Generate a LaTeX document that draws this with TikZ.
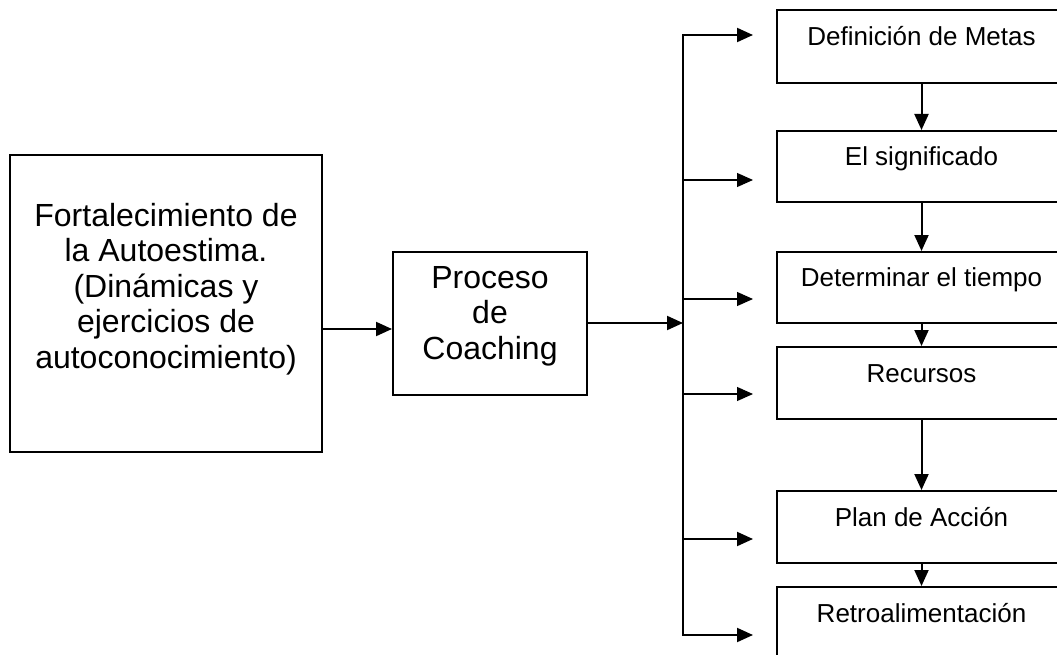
\documentclass[tikz,border=0pt]{standalone}
\usepackage{fontspec}
\setmainfont{Liberation Sans}
\usetikzlibrary{arrows.meta,calc}
\begin{document}
\begin{tikzpicture}[x=1pt,y=-1pt,
  frame/.style={draw,line width=2pt,inner sep=0pt},
  bigtext/.style={align=center,inner sep=0pt,font=\fontsize{32}{35.5}\selectfont},
  stepbox/.style={frame,minimum width=289pt,minimum height=72pt,
    font=\fontsize{26}{30}\selectfont,text height=18pt,text depth=20pt},
  tip/.style={Triangle[length=16pt,width=14pt]},
  arr/.style={-{Triangle[length=16pt,width=14pt]},line width=2pt},
  thinarr/.style={arr,line width=1.2pt}]
\useasboundingbox (0,0) rectangle (1057,655);
\clip (0,0) rectangle (1057,655);

% left block
\node[frame,minimum width=312pt,minimum height=297pt] (fort) at (166,303.5) {};
\node[bigtext] (forttxt) at (166,289) {Fortalecimiento de\\la Autoestima.\\(Dinámicas y\\ejercicios de\\autoconocimiento)};

% coaching block
\node[frame,minimum width=194pt,minimum height=143pt] (proc) at (490,323.5) {};
\node[bigtext] (proctxt) at (490,316) {Proceso\\de\\Coaching};

% steps
\node[stepbox,minimum height=73pt] (s1) at (921.5,46.5) {Definición de Metas};
\node[stepbox,minimum height=71pt] (s2) at (921.5,166.5) {El significado};
\node[stepbox,minimum height=71pt] (s3) at (921.5,287.5) {Determinar el tiempo};
\node[stepbox] (s4) at (921.5,383) {Recursos};
\node[stepbox] (s5) at (921.5,527) {Plan de Acción};
\node[stepbox] (s6) at (921.5,623) {Retroalimentación};

% distribution bus
\coordinate (hy) at (0,329);
\coordinate (hub) at (683,323);
\foreach \i/\y in {1/35,2/180,3/299,4/394,5/539,6/635}{
  \coordinate (b\i) at (683,\y);
  \coordinate (t\i) at (753,\y);
}

% connectors
\draw[arr] (fort.east |- hy) -- (proc.west |- hy);
\draw[arr] (proc.east |- hub) -- (hub);
\draw[arr,{Triangle[length=16pt,width=14pt]}-{Triangle[length=16pt,width=14pt]}]
  (t1) -- (b1) -- (b6) -- (t6);
\draw[thinarr] (b2) -- (t2);
\draw[thinarr] (b3) -- (t3);
\draw[thinarr] (b4) -- (t4);
\draw[arr] (b5) -- (t5);

\draw[arr] (s1) -- (s2);
\draw[arr] (s2) -- (s3);
\draw[arr] (s3) -- (s4);
\draw[arr] (s4) -- (s5);
\draw[arr] (s5) -- (s6);
\end{tikzpicture}
\end{document}
